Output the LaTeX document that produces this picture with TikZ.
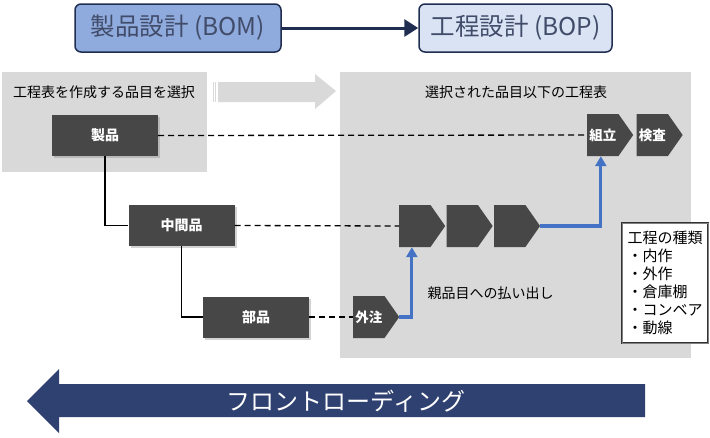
\documentclass[tikz,border=0pt]{standalone}
\usepackage{fontspec}
\setmainfont{Noto Sans CJK JP}
\usetikzlibrary{positioning,shapes.symbols,arrows.meta,shadows}

\definecolor{navy}{HTML}{1F2D50}
\definecolor{bomblue}{HTML}{8FAADC}
\definecolor{boplight}{HTML}{DAE3F3}
\definecolor{panelgray}{HTML}{D9D9D9}
\definecolor{boxgray}{HTML}{474747}
\definecolor{flowblue}{HTML}{4472C4}
\definecolor{frontnavy}{HTML}{2F4171}

\tikzset{design/.style={draw=navy,line width=1.5pt,rounded corners=6pt,minimum height=48pt,text=navy!85,font=\fontsize{24.5}{24.5}\selectfont}}
\tikzset{item/.style={fill=boxgray,minimum width=106pt,minimum height=41pt,text=white,font=\bfseries\fontsize{14}{14}\selectfont,drop shadow={opacity=0.35,shadow xshift=2pt,shadow yshift=-2pt}}}
\tikzset{proc/.style={shape=signal,signal to=east,signal pointer angle=110,fill=boxgray,minimum width=46pt,minimum height=42pt,inner sep=0pt,anchor=west,text=white,font=\bfseries\fontsize{13.5}{13.5}\selectfont}}
\tikzset{link/.style={dashed,dash pattern=on 6pt off 4pt,line width=1.3pt}}
\tikzset{tree/.style={line width=1.3pt}}
\tikzset{flow/.style={flowblue,line width=3.2pt,-{Triangle[length=10pt,width=11pt]}}}
\tikzset{title/.style={font=\fontsize{14}{14}\selectfont}}

\begin{document}
\begin{tikzpicture}[x=1pt,y=-1pt]
    \useasboundingbox (0,0) rectangle (710,437);
    % gray panels and the arrow between them
    \fill[panelgray] (2,72) rectangle (207,172);
    \fill[panelgray] (340,72) rectangle (691,358);
    \draw[panelgray,line width=0.8pt] (213,82) -- (213,102) (215.5,82) -- (215.5,102);
    \fill[panelgray] (218,82) -- (315,82) -- (315,74) -- (336,91) -- (315,109) -- (315,102) -- (218,102) -- cycle;
    \node[title] (pick) at (104,92) {工程表を作成する品目を選択};
    \node[title] (table) at (516,92) {選択された品目以下の工程表};

    % design stages
    \node[design,fill=bomblue,minimum width=206pt] (bom) at (178,28) {製品設計 (BOM)};
    \node[design,fill=boplight,minimum width=193pt] (bop) at (515.5,28) {工程設計 (BOP)};
    \draw[navy,line width=3pt,-{Triangle[length=14pt,width=17pt]}] (bom.east) -- (bop.west);

    % parts tree
    \node[item] (prod) at (105,135.5) {製品};
    \node[item] (mid) at (181.5,225.5) {中間品};
    \node[item] (part) at (256,317) {部品};
    \draw[tree] (prod.south) |- (mid.west);
    \draw[tree] (mid.south) |- (part.west);

    % process chevrons
    \node[proc] (assy) at (587,135) {組立};
    \node[proc,right=3pt of assy] (insp) {検査};
    \node[proc] (c1) at (399,226) {};
    \node[proc,right=1pt of c1] (c2) {};
    \node[proc,right=1pt of c2] (c3) {};
    \node[proc] (out) at (353,317) {外注};

    \draw[link] (prod.east) -- (assy.west);
    \draw[link] (mid.east) -- (c1.west);
    \draw[link] (part.east) -- (out.west);
    \draw[flow] (out.east) -| ([xshift=-3pt]c1.south);
    \draw[flow] (c3.east) -| ([xshift=-2pt]assy.south);
    \node[title,anchor=west] (issue) at (424,293) {親品目への払い出し};

    % legend
    \node[draw=black!80,line width=0.8pt,double=gray,double distance=1pt,fill=white,minimum width=86pt,minimum height=120pt,align=left,font=\fontsize{15}{18}\selectfont] (kinds) at (665,283) {工程の種類\\・内作\\・外作\\・倉庫棚\\・コンベア\\・動線};

    % front loading arrow
    \fill[frontnavy] (27,401) -- (59,369) -- (59,384) -- (645,384) -- (645,417) -- (59,417) -- (59,433) -- cycle;
    \node[text=white,font=\fontsize{24}{24}\selectfont] (front) at (346,401) {フロントローディング};
\end{tikzpicture}
\end{document}
